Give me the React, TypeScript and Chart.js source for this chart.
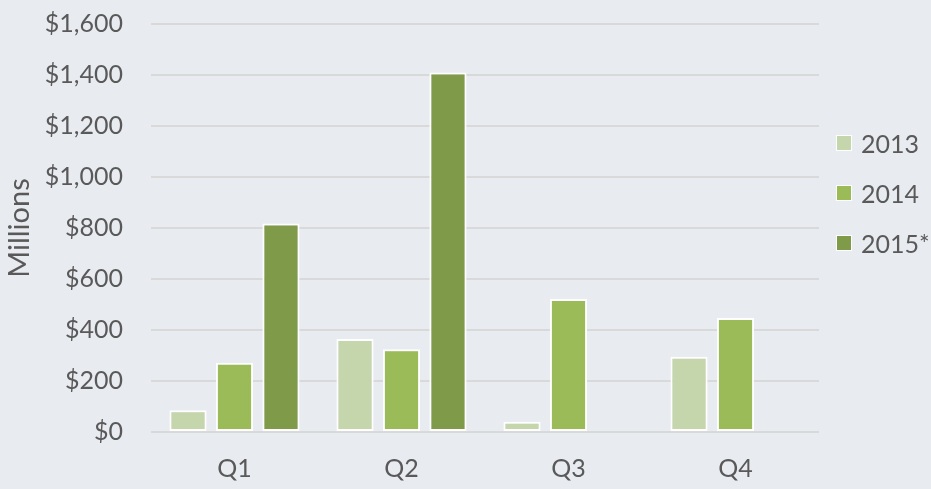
import React, { useEffect, useRef } from "react";
import { Chart, registerables } from "chart.js";

Chart.register(...registerables);

const categories = ["Q1", "Q2", "Q3", "Q4"];
const seriesNames = ["2013", "2014", "2015*"];
const values2013 = [85, 365, 40, 295];
const values2014 = [272, 325, 522, 447];
const values2015 = [818, 1410, null, null];
const seriesColors = ["#c6d6ac", "#9bbb59", "#7f9a48"];
const yTicks = [0, 200, 400, 600, 800, 1000, 1200, 1400, 1600];

const FONT = "Lato, 'Open Sans', sans-serif";
const TEXT = "#595959";
const BG = "#e8ebf0";

export default function App() {
  const canvasRef = useRef<HTMLCanvasElement | null>(null);

  useEffect(() => {
    const canvas = canvasRef.current;
    if (!canvas) return;
    const seriesValues = [values2013, values2014, values2015];
    const chart = new Chart(canvas, {
      type: "bar",
      data: {
        labels: categories,
        datasets: seriesNames.map((name, i) => ({
          label: name,
          data: seriesValues[i],
          backgroundColor: seriesColors[i],
          borderColor: "#ffffff",
          borderWidth: 2,
          borderSkipped: false,
          categoryPercentage: 0.835,
          barPercentage: 0.8,
        })),
      },
      options: {
        animation: false,
        responsive: false,
        maintainAspectRatio: false,
        layout: { padding: { top: 24, right: 112, left: 0, bottom: 0 } },
        plugins: {
          legend: { display: false },
          tooltip: { enabled: false },
        },
        scales: {
          x: {
            grid: { display: false, drawTicks: false },
            border: { display: false },
            ticks: {
              color: TEXT,
              font: { family: FONT, size: 25 },
              padding: 22,
            },
            afterFit: (scale: any) => {
              scale.height = 57;
            },
          },
          y: {
            min: 0,
            max: 1600,
            afterBuildTicks: (scale: any) => {
              scale.ticks = yTicks.map((v) => ({ value: v }));
            },
            grid: { color: "#d9d9d9", lineWidth: 2, drawTicks: false },
            border: { display: false },
            ticks: {
              color: TEXT,
              font: { family: FONT, size: 25 },
              padding: 28,
              callback: (v: any) => "$" + Number(v).toLocaleString("en-US"),
            },
            title: {
              display: true,
              text: "Millions",
              color: TEXT,
              font: { family: FONT, size: 29 },
              padding: { top: 2, bottom: 2 },
            },
            afterFit: (scale: any) => {
              scale.width = 151;
              scale.paddingTop = 0;
              scale.paddingBottom = 0;
            },
          },
        },
      },
    });
    return () => chart.destroy();
  }, []);

  return (
    <div
      style={{
        position: "fixed",
        left: 0,
        top: 0,
        width: 931,
        height: 489,
        background: BG,
        overflow: "hidden",
      }}
    >
      <canvas ref={canvasRef} width={931} height={489} style={{ display: "block" }} />
      {seriesNames.map((name, i) => (
        <div
          key={name}
          style={{
            position: "absolute",
            left: 836,
            top: 143 + i * 50 - 15,
            height: 30,
            display: "flex",
            alignItems: "center",
            fontFamily: FONT,
            fontSize: 25,
            color: TEXT,
            whiteSpace: "nowrap",
          }}
        >
          <span
            style={{
              display: "inline-block",
              width: 14,
              height: 14,
              background: seriesColors[i],
              border: "1.5px solid #ffffff",
              marginRight: 9,
            }}
          />
          {name}
        </div>
      ))}
    </div>
  );
}
